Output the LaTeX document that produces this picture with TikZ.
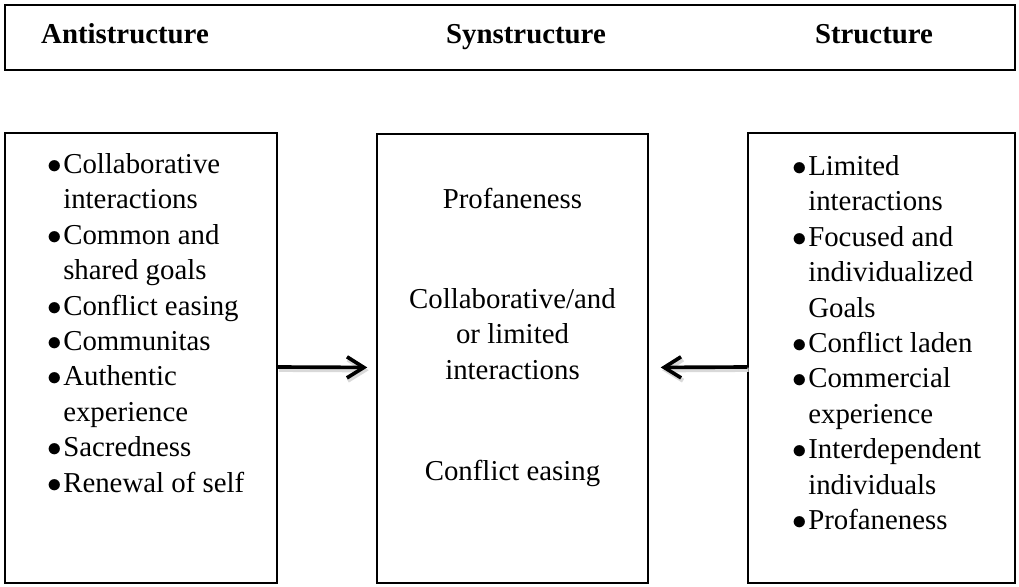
\documentclass[tikz,border=0pt]{standalone}
\usepackage{fontspec}
\setmainfont{Liberation Serif}
\usepackage{tikz}
\usetikzlibrary{arrows.meta}
\newcommand{\bul}{\makebox[0.4cm][l]{$\bullet$}}
\newcommand{\nextln}{\hspace*{0.4cm}}
\tikzset{
  box/.style={draw=black, line width=1pt, inner sep=0pt},
  body/.style={font=\fontsize{20.5}{25.2}\selectfont, inner sep=0pt},
  head/.style={font=\fontsize{20.5}{25.2}\selectfont\bfseries, inner sep=0pt, anchor=base},
  flow/.style={line width=2.6pt, -{Straight Barb[length=12pt,width=15pt]},
    preaction={draw=black!15, line width=3pt, transform canvas={xshift=1pt, yshift=-2pt}}}
}

\begin{document}
\begin{tikzpicture}[x=0.025cm, y=-0.025cm]
  \useasboundingbox (0,0) rectangle (1019,586);

  % heading strip
  \node[box, minimum width=25.25cm, minimum height=1.625cm] (hdr) at (510,37.5) {};
  \node[head] (hanti) at (125,43) {Antistructure};
  \node[head] (hsyn) at (526,43) {Synstructure};
  \node[head] (hstruct) at (874,43) {Structure};

  % the three columns
  \node[box, minimum width=6.8cm, minimum height=11.25cm] (anti) at (141,358) {};
  \node[box, minimum width=6.775cm, minimum height=11.225cm] (syn) at (512.5,358.5) {};
  \node[box, minimum width=6.675cm, minimum height=11.25cm] (struct) at (881.5,358) {};

  \node[body, align=left, anchor=north west] (antitxt) at (47,153) {%
    \bul Collaborative\\ \nextln interactions\\
    \bul Common and\\ \nextln shared goals\\
    \bul Conflict easing\\
    \bul Communitas\\
    \bul Authentic\\ \nextln experience\\
    \bul Sacredness\\
    \bul Renewal of self};

  \node[body, anchor=base] (synone) at (512.5,208) {Profaneness};
  \node[body, align=center, anchor=north] (syntwo) at (512.5,288) {Collaborative/and\\ or limited\\ interactions};
  \node[body, anchor=base] (synthree) at (512.5,480) {Conflict easing};

  \node[body, align=left, anchor=north west] (structtxt) at (792,155) {%
    \bul Limited\\ \nextln interactions\\
    \bul Focused and\\ \nextln individualized\\ \nextln Goals\\
    \bul Conflict laden\\
    \bul Commercial\\ \nextln experience\\
    \bul Interdependent\\ \nextln individuals\\
    \bul Profaneness};

  % arrows into the middle
  \draw[flow, shorten >=0.225cm] ([yshift=-0.225cm]anti.east) -- ([yshift=-0.225cm]syn.west);
  \draw[flow, shorten >=0.3cm] ([yshift=-0.225cm]struct.west) -- ([yshift=-0.225cm]syn.east);
\end{tikzpicture}
\end{document}
